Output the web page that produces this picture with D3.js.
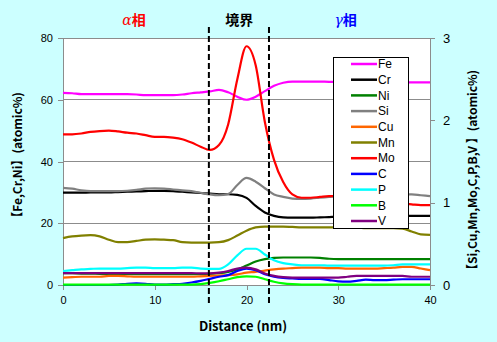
<!DOCTYPE html>
<html><head><meta charset="utf-8">
<script src="https://cdn.jsdelivr.net/npm/d3@7"></script>
<style>body{margin:0;background:#ccffff}svg{display:block}</style>
</head><body><svg id="c" width="497" height="342"></svg>
<script>
const distance = d3.range(0, 41, 1);
const Fe = [62.2,62.1,61.8,61.8,61.8,61.8,61.8,61.8,61.7,61.5,61.5,61.5,61.5,61.7,62.1,62.4,62.7,63.2,62.4,61.0,60.0,61.0,62.8,64.5,65.5,65.9,65.9,65.9,65.9,65.8,65.8,65.8,65.8,65.7,65.7,65.7,65.7,65.6,65.6,65.6,65.6];
const Cr = [29.9,29.9,29.9,30.0,30.0,30.0,30.1,30.2,30.3,30.4,30.5,30.5,30.4,30.2,30.0,29.8,29.6,29.4,29.4,29.2,28.2,25.6,23.5,22.4,21.9,21.8,21.8,21.8,21.9,22.0,22.1,22.1,22.2,22.2,22.3,22.3,22.3,22.4,22.4,22.4,22.4];
const Ni = [3.8,3.8,3.7,3.7,3.6,3.6,3.6,3.6,3.5,3.5,3.5,3.5,3.5,3.5,3.5,3.5,3.6,3.8,4.2,5.0,6.3,7.6,8.4,8.8,8.9,8.9,8.9,8.9,8.8,8.5,8.4,8.4,8.4,8.4,8.4,8.4,8.4,8.4,8.4,8.4,8.4];
const Si = [1.18,1.17,1.15,1.14,1.14,1.14,1.14,1.145,1.155,1.17,1.175,1.17,1.16,1.15,1.14,1.12,1.10,1.09,1.105,1.215,1.30,1.255,1.175,1.10,1.07,1.05,1.045,1.05,1.06,1.07,1.08,1.08,1.08,1.09,1.09,1.09,1.09,1.10,1.10,1.09,1.08];
const Cu = [0.09,0.095,0.10,0.10,0.10,0.11,0.11,0.105,0.10,0.10,0.10,0.10,0.10,0.10,0.10,0.105,0.11,0.115,0.12,0.13,0.15,0.16,0.175,0.19,0.20,0.205,0.21,0.21,0.21,0.205,0.205,0.20,0.20,0.20,0.20,0.205,0.21,0.22,0.22,0.20,0.18];
const Mn = [0.57,0.59,0.60,0.605,0.59,0.55,0.52,0.52,0.535,0.55,0.555,0.55,0.545,0.52,0.515,0.515,0.515,0.52,0.545,0.60,0.66,0.70,0.71,0.71,0.71,0.705,0.70,0.70,0.70,0.70,0.70,0.695,0.695,0.69,0.69,0.69,0.69,0.685,0.65,0.615,0.61];
const Mo = [1.83,1.83,1.84,1.86,1.87,1.875,1.865,1.85,1.84,1.82,1.80,1.80,1.79,1.77,1.73,1.68,1.64,1.70,1.95,2.50,2.90,2.67,1.98,1.52,1.25,1.10,1.06,1.06,1.07,1.08,1.08,1.07,1.06,1.05,1.03,1.01,1.00,0.99,0.98,0.97,0.97];
const C = [0,0,0,0,0,0,0.005,0.015,0.02,0.015,0.005,0.005,0.01,0.015,0.03,0.05,0.075,0.10,0.12,0.17,0.20,0.18,0.13,0.10,0.085,0.08,0.075,0.075,0.075,0.06,0.045,0.04,0.05,0.065,0.06,0.06,0.065,0.07,0.07,0.07,0.07];
const P = [0.17,0.18,0.19,0.195,0.20,0.20,0.20,0.205,0.21,0.21,0.205,0.205,0.205,0.21,0.21,0.20,0.195,0.195,0.25,0.36,0.44,0.44,0.37,0.30,0.265,0.25,0.24,0.24,0.24,0.235,0.235,0.235,0.235,0.235,0.235,0.235,0.24,0.25,0.25,0.25,0.25];
const B = [0.005,0.005,0.005,0.005,0.005,0.005,0.005,0.005,0.005,0.005,0.005,0.005,0.005,0.005,0.005,0.01,0.025,0.045,0.07,0.095,0.105,0.10,0.07,0.04,0.02,0.01,0.005,0.005,0.005,0.005,0.005,0.005,0.005,0.005,0.005,0.005,0.005,0.005,0.005,0.005,0.005];
const V = [0.145,0.145,0.145,0.145,0.145,0.145,0.145,0.145,0.145,0.145,0.145,0.145,0.145,0.145,0.145,0.14,0.14,0.15,0.17,0.20,0.21,0.19,0.14,0.11,0.095,0.09,0.09,0.09,0.09,0.09,0.09,0.10,0.11,0.11,0.11,0.11,0.11,0.11,0.10,0.10,0.10];

const seriesNames = ["Fe","Cr","Ni","Si","Cu","Mn","Mo","C","P","B","V"];
const seriesValues = [Fe,Cr,Ni,Si,Cu,Mn,Mo,C,P,B,V];
const seriesAxis = ["L","L","L","R","R","R","R","R","R","R","R"];
const seriesColors = ["#ff00ff","#000000","#008000","#808080","#ff6600","#808000","#ff0000","#0000ff","#00ffff","#00ff00","#800080"];
const xTicks = [0,10,20,30,40];
const yLeftTicks = [0,20,40,60,80];
const yRightTicks = [0,1,2,3];
const boundaries = [15.9, 22.45];
const phaseLabels = [{g:"α",t:"相",x:7.75,c:"#ff0000"},{g:"",t:"境界",x:19.2,c:"#000000"},{g:"γ",t:"相",x:30.8,c:"#0000ff"}];

const svg = d3.select("#c");
const m = {l:63, r:430, t:38, b:285};
const x = d3.scaleLinear().domain([0,40]).range([m.l, m.r]);
const yL = d3.scaleLinear().domain([0,80]).range([m.b, m.t]);
const yR = d3.scaleLinear().domain([0,3]).range([m.b, m.t]);

svg.append("rect").attr("width",497).attr("height",342).attr("fill","#ccffff");
svg.append("rect").attr("x",m.l).attr("y",m.t).attr("width",m.r-m.l).attr("height",m.b-m.t).attr("fill","#fff");

svg.append("g").selectAll("line").data(yLeftTicks.slice(1)).join("line")
  .attr("x1",m.l).attr("x2",m.r).attr("y1",d=>yL(d)).attr("y2",d=>yL(d))
  .attr("stroke","#8c8c8c").attr("stroke-width",1).attr("shape-rendering","crispEdges");

const font = "'Liberation Sans', Arial, sans-serif";
const gL = svg.append("g").attr("transform",`translate(${m.l},0)`).call(d3.axisLeft(yL).tickValues(yLeftTicks).tickSize(5).tickPadding(5));
const gR = svg.append("g").attr("transform",`translate(${m.r},0)`).call(d3.axisRight(yR).tickValues(yRightTicks).tickFormat(d3.format("d")).tickSize(5).tickPadding(8));
const gB = svg.append("g").attr("transform",`translate(0,${m.b})`).call(d3.axisBottom(x).tickValues(xTicks).tickSize(5).tickPadding(6));
[gL,gR,gB].forEach(g=>{
  g.selectAll("path,line").attr("stroke","#8c8c8c").attr("shape-rendering","crispEdges");
  g.selectAll("text").attr("font-family",font).attr("font-size",11).attr("fill","#000");
});
gR.selectAll("text").attr("font-size",13);

const lineGen = (arr, ax) => d3.line().curve(d3.curveMonotoneX)
  .x((d,i)=>x(distance[i])).y(d=>(ax==="L"?yL:yR)(d))(arr);
svg.append("g").selectAll("path").data(seriesNames).join("path")
  .attr("d",(n,i)=>lineGen(seriesValues[i], seriesAxis[i]))
  .attr("fill","none").attr("stroke",(n,i)=>seriesColors[i]).attr("stroke-width",2.2)
  .attr("stroke-linejoin","round");

svg.append("g").selectAll("line").data(boundaries).join("line")
  .attr("x1",d=>x(d)).attr("x2",d=>x(d)).attr("y1",27).attr("y2",305)
  .attr("stroke","#000").attr("stroke-width",2).attr("stroke-dasharray","6,3");

const pl = svg.append("g").selectAll("text").data(phaseLabels).join("text")
  .attr("x",d=>x(d.x)).attr("y",25).attr("text-anchor","middle")
  .attr("font-family","'Noto Sans CJK JP', sans-serif").attr("font-weight","bold").attr("font-size",14)
  .attr("fill",d=>d.c);
pl.append("tspan").attr("font-family","'DejaVu Serif', serif").attr("font-style","italic").attr("font-weight","normal").text(d=>d.g);
pl.append("tspan").text(d=>d.t);

const lg = svg.append("g");
lg.append("rect").attr("x",333.5).attr("y",57.5).attr("width",75).attr("height",171).attr("fill","#fff").attr("stroke","#000").attr("stroke-width",1);
const li = lg.selectAll("g").data(seriesNames).join("g").attr("transform",(d,i)=>`translate(0,${64+i*15.7})`);
li.append("line").attr("x1",351).attr("x2",377).attr("stroke",(d,i)=>seriesColors[i]).attr("stroke-width",2.5);
li.append("text").attr("x",378).attr("dy","0.35em").attr("font-family",font).attr("font-size",12).text(d=>d);

svg.append("text").attr("transform","translate(22,158) rotate(-90)").attr("text-anchor","middle")
  .attr("font-family","'Noto Sans CJK JP', sans-serif").attr("font-weight","bold").attr("font-size",12)
  .text("【Fe,Cr,Ni】(atomic%)");
svg.append("text").attr("transform","translate(477,173) rotate(-90)").attr("text-anchor","middle")
  .attr("font-family","'Noto Sans CJK JP', sans-serif").attr("font-weight","bold").attr("font-size",12)
  .text("【Si,Cu,Mn,Mo,C,P,B,V 】(atomic%)");
svg.append("text").attr("x",243).attr("y",331).attr("text-anchor","middle")
  .attr("font-family","'Noto Sans CJK JP', sans-serif").attr("font-weight","bold").attr("font-size",13)
  .text("Distance (nm)");
</script></body></html>
